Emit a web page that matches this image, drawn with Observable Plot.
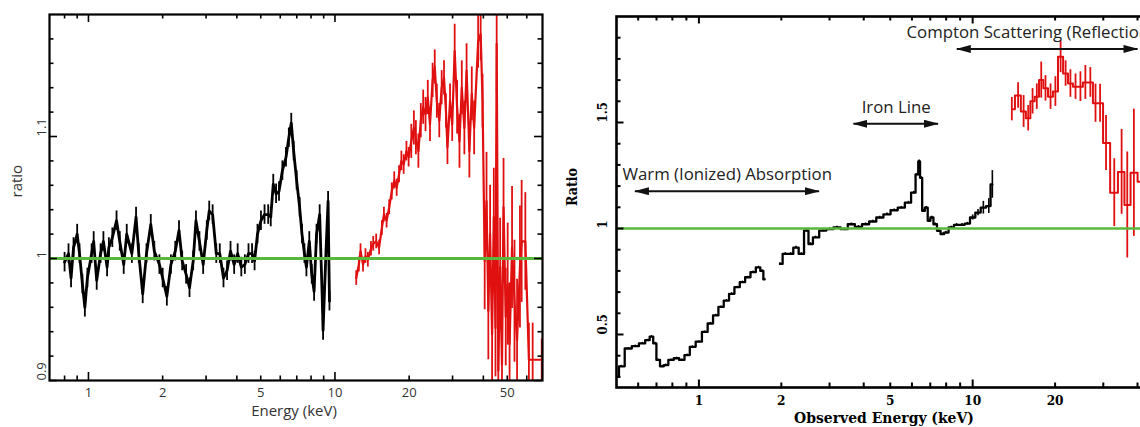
<!DOCTYPE html>
<html>
<head>
<meta charset="utf-8">
<script src="https://cdn.jsdelivr.net/npm/d3@7"></script>
<script src="https://cdn.jsdelivr.net/npm/@observablehq/plot@0.6"></script>
<style>
  html, body { margin: 0; padding: 0; background: #fff; overflow: hidden; }
  #wrap { position: relative; width: 1140px; height: 427px; overflow: hidden; background: #fff; }
  #left { position: absolute; left: 0; top: 0; width: 560px; height: 427px; }
  #right { position: absolute; left: 560px; top: 0; width: 640px; height: 427px; }
  #wrap svg { overflow: visible; display: block; max-width: none !important; }
</style>
</head>
<body>
<div id="wrap"><div id="left"></div><div id="right"></div></div>
<script>
// ================= LEFT PANEL DATA =================
const leftBlackEnergy = [0.80,0.83,0.85,0.87,0.90,0.92,0.945,0.967,0.99,1.03,1.05,1.08,1.12,1.15,1.19,1.21,1.25,1.30,1.34,1.39,1.43,1.50,1.56,1.60,1.66,1.72,1.79,1.85,1.94,2.0,2.08,2.16,2.25,2.33,2.40,2.49,2.57,2.66,2.73,2.82,2.92,3.02,3.09,3.19,3.30,3.41,3.53,3.65,3.77,3.90,4.03,4.17,4.31,4.46,4.61,4.72,4.85,5.01,5.18,5.36,5.49,5.62,5.77,5.93,6.12,6.33,6.50,6.65,6.80,6.99,7.19,7.35,7.52,7.66,7.87,8.05,8.23,8.42,8.67,8.87,8.95,9.19,9.38,9.5];
const leftBlackRatio = [0.997,1.004,0.984,1.009,1.02,1.004,0.979,0.96,0.984,1.004,1.014,0.982,1.004,1.014,0.993,1.009,1.017,1.031,1.014,0.995,1.02,1.004,1.034,1.004,0.971,1.004,1.028,1.006,0.995,0.984,0.969,0.995,1.006,1.023,0.998,0.987,0.976,0.998,1.031,1.014,0.995,1.023,1.039,1.036,1.004,1.004,0.984,0.99,1.006,0.995,1.004,0.993,0.995,1.004,1.004,0.998,1.02,1.031,1.036,1.036,1.034,1.061,1.053,1.055,1.072,1.083,1.099,1.111,1.088,1.064,1.042,1.02,1.004,0.993,1.014,0.987,0.973,1.02,1.036,0.971,0.941,1.004,1.047,0.965];
const leftBlackErr = 0.008;

const leftRedEnergy = [12.2,12.5,12.7,13.0,13.3,13.6,14.0,14.3,14.7,15.1,15.5,15.8,16.2,16.6,17.0,17.4,17.8,18.2,18.6,19.0,19.5,19.9,20.4,20.9,21.3,21.8,22.3,22.8,23.3,23.8,24.3,24.9,25.4,25.9,26.5,27.1,27.7,28.2,28.6,29.3,29.9,30.6,31.3,32.0,32.7,33.5,34.2,35.1,35.9,36.7,38.1,39.0,39.7,40.5,41.2,41.9,42.6,43.4,44.1,44.8,45.3,46.0,46.8,47.6,48.3,49.3,50.2,51.1,52.3,53.5,54.8,56.3,57.2,59.2,61.2,63.4,69.0];
const leftRedRatio = [0.984,0.995,1.006,0.995,1.002,0.999,1.008,1.012,1.014,1.009,1.025,1.036,1.031,1.042,1.055,1.064,1.058,1.069,1.08,1.077,1.088,1.083,1.096,1.107,1.099,1.088,1.113,1.124,1.118,1.132,1.11,1.146,1.157,1.129,1.113,1.14,1.148,1.121,1.091,1.129,1.11,1.17,1.124,1.096,1.14,1.107,1.154,1.088,1.135,1.107,1.178,1.184,1.129,0.998,1.047,0.957,1.02,0.938,1.034,0.943,1.176,0.908,0.993,0.913,1.042,0.952,0.979,0.93,1.009,0.965,0.933,0.993,1.014,1.014,0.917,0.917,0.917];
const leftRedErr = [0.006,0.006,0.006,0.006,0.006,0.006,0.006,0.006,0.006,0.006,0.006,0.006,0.006,0.006,0.007,0.007,0.007,0.007,0.008,0.008,0.008,0.008,
  0.014,0.014,0.014,0.014,0.014,0.014,0.014,0.014,0.014,0.014,0.014,0.014,0.014,0.014,0.014,0.014,0.014,0.014,0.014,
  0.022,0.022,0.022,0.022,0.022,0.022,0.022,0.022,0.022,0.022,0.022,0.022,
  0.04,0.04,0.04,0.04,0.04,0.04,0.04,0.04,0.04,0.04,0.04,0.04,0.04,
  0.05,0.05,0.05,0.05,0.05,0.05,
  0.05,0.04,0.03,0.03,0.017];

const leftXTicksMajor = [1, 10];
const leftXTicksMinor = [0.8, 0.9, 2, 3, 4, 5, 6, 7, 8, 9, 20, 30, 40, 50, 60];
const leftXLabels = [1, 2, 5, 10, 20, 50];
const leftYTicksMajor = [0.9, 1.0, 1.1];
const leftYTicksMinor = [0.92, 0.94, 0.96, 0.98, 1.02, 1.04, 1.06, 1.08, 1.12, 1.14, 1.16, 1.18];
const leftYLabels = [0.9, 1, 1.1];

// ================= RIGHT PANEL DATA =================
const rightBlackEnergyA = [0.501,0.520,0.552,0.586,0.622,0.651,0.671,0.691,0.708,0.734,0.756,0.791,0.828,0.866,0.906,0.947,1.0,1.052,1.101,1.152,1.205,1.26,1.318,1.379,1.442,1.509,1.578,1.651,1.701,1.738];
const rightBlackRatioA = [0.30,0.35,0.434,0.445,0.458,0.473,0.49,0.458,0.38,0.35,0.356,0.38,0.388,0.38,0.403,0.442,0.466,0.512,0.552,0.59,0.63,0.66,0.692,0.723,0.747,0.77,0.794,0.817,0.80,0.76];
const rightBlackErrA = 0.005;
const rightBlackEnergyB = [1.977,2.068,2.163,2.262,2.367,2.476,2.551,2.669,2.834,3.009,3.195,3.394,3.604,3.826,4.063,4.314,4.581,4.864,5.166,5.486,5.824,6.093,6.28,6.375,6.471,6.608,6.769,6.934,7.081,7.297,7.519,7.749,7.985,8.353,8.737,9.139,9.559,10.0,10.46,10.94,11.45,11.8];
const rightBlackRatioB = [0.833,0.88,0.88,0.91,0.88,0.99,0.927,0.958,0.99,0.997,1.005,0.997,1.02,1.008,1.02,1.033,1.052,1.067,1.086,1.098,1.122,1.169,1.255,1.317,1.239,1.083,1.098,1.036,1.052,1.02,0.989,0.973,0.981,1.005,1.017,1.017,1.023,1.052,1.075,1.098,1.106,1.208];
const rightBlackErrB = [0.006,0.006,0.006,0.006,0.006,0.006,0.006,0.006,0.006,0.006,0.006,0.006,0.006,0.006,0.006,0.006,0.006,0.006,0.006,0.006,0.006,0.006,0.006,0.006,0.006,0.006,0.006,0.006,0.006,0.006,0.006,0.006,0.006,0.006,0.006,0.006,0.006,0.012,0.015,0.03,0.035,0.065];

const rightRedEnergy = [13.9,14.65,15.35,15.95,16.55,17.15,17.8,18.45,19.25,20.05,20.95,21.85,22.75,23.75,24.75,25.8,26.9,28.1,29.2,30.7,32.9,35.0,36.7,38.8,41.3];
const rightRedRatio = [1.563,1.627,1.552,1.52,1.60,1.622,1.70,1.661,1.622,1.646,1.81,1.731,1.684,1.669,1.669,1.689,1.689,1.591,1.591,1.403,1.169,1.267,1.111,1.263,1.22];
const rightRedErr = [0.055,0.06,0.075,0.06,0.06,0.06,0.085,0.06,0.06,0.07,0.075,0.06,0.065,0.06,0.07,0.08,0.07,0.09,0.09,0.13,0.16,0.2,0.25,0.3,0.35];

const rightXTicksMajor = [1, 10];
const rightXTicksMinor = [0.6, 0.7, 0.8, 0.9, 2, 3, 4, 5, 6, 7, 8, 9, 20, 30, 40];
const rightXLabels = [1, 2, 5, 10, 20];
const rightYTicksMajor = [0.5, 1, 1.5];
const rightYTicksMinor = [0.3, 0.4, 0.6, 0.7, 0.8, 0.9, 1.1, 1.2, 1.3, 1.4, 1.6, 1.7, 1.8, 1.9];
const rightYLabels = [0.5, 1, 1.5];

// annotations (right panel)
const noteText = ["Warm (Ionized) Absorption", "Iron Line", "Compton Scattering (Reflection)"];
const noteEnergy = [0.526, 3.93, 5.73];
const noteRatio = [1.255, 1.572, 1.923];
const arrowFrom = [0.584, 3.67, 8.75];
const arrowTo = [2.745, 7.47, 40];
const arrowRatio = [1.176, 1.494, 1.847];

// ================= HELPERS =================
const GREEN = "#58b83b";
const RED = "#e01010";

function frameTicks(xMaj, xMin, yMaj, yMin, fw, fh, majLen, minLen, sw) {
  const st = {stroke: "#000", strokeWidth: sw};
  return [
    Plot.tickX(xMaj, {x: d => d, insetTop: fh - majLen, ...st}),
    Plot.tickX(xMaj, {x: d => d, insetBottom: fh - majLen, ...st}),
    Plot.tickX(xMin, {x: d => d, insetTop: fh - minLen, ...st}),
    Plot.tickX(xMin, {x: d => d, insetBottom: fh - minLen, ...st}),
    Plot.tickY(yMaj, {y: d => d, insetRight: fw - majLen, ...st}),
    Plot.tickY(yMaj, {y: d => d, insetLeft: fw - majLen, ...st}),
    Plot.tickY(yMin, {y: d => d, insetRight: fw - minLen, ...st}),
    Plot.tickY(yMin, {y: d => d, insetLeft: fw - minLen, ...st})
  ];
}

// ================= LEFT PLOT =================
const LW = 560, LH = 427, LML = 49, LMR = 18, LMT = 14, LMB = 47;
const leftBlack = leftBlackEnergy.map((e, i) => ({e, r: leftBlackRatio[i], err: leftBlackErr}));
const leftRed = leftRedEnergy.map((e, i) => ({e, r: leftRedRatio[i], err: leftRedErr[i]}));
const sansL = "'Open Sans', 'Noto Sans', sans-serif";

const leftPlot = Plot.plot({
  width: LW, height: LH,
  marginLeft: LML, marginRight: LMR, marginTop: LMT, marginBottom: LMB,
  x: {type: "log", domain: [0.695, 69.5], axis: null},
  y: {domain: [0.9, 1.2], axis: null},
  style: {background: "transparent", overflow: "visible", maxWidth: "none"},
  marks: [
    Plot.ruleX(leftBlack, {x: "e", y1: d => d.r - d.err, y2: d => d.r + d.err, stroke: "#000", strokeWidth: 1.8, clip: true}),
    Plot.line(leftBlack, {x: "e", y: "r", stroke: "#000", strokeWidth: 2.8, clip: true}),
    Plot.ruleX(leftRed, {x: "e", y1: d => d.r - d.err, y2: d => d.r + d.err, stroke: RED, strokeWidth: 1.8, clip: true}),
    Plot.line(leftRed, {x: "e", y: "r", stroke: RED, strokeWidth: 2.2, clip: true}),
    Plot.ruleY([1], {stroke: GREEN, strokeWidth: 3}),
    ...frameTicks(leftXTicksMajor, leftXTicksMinor, leftYTicksMajor, leftYTicksMinor, LW - LML - LMR, LH - LMT - LMB, 8, 4.5, 1.6),
    Plot.frame({stroke: "#000", strokeWidth: 2.2}),
    Plot.text(leftXLabels, {x: d => d, text: d => String(d), frameAnchor: "bottom", dy: 12, lineAnchor: "middle", fontFamily: sansL, fontSize: 13, fill: "#333"}),
    Plot.text(leftYLabels, {y: d => d, text: d => String(d), frameAnchor: "left", dx: -8, rotate: -90, lineAnchor: "middle", fontFamily: sansL, fontSize: 13, fill: "#333"}),
    Plot.text(["Energy (keV)"], {text: d => d, frameAnchor: "bottom", dx: -2, dy: 31, lineAnchor: "middle", fontFamily: sansL, fontSize: 15, fill: "#333"}),
    Plot.text(["ratio"], {text: d => d, frameAnchor: "left", dx: -32, rotate: -90, lineAnchor: "middle", fontFamily: sansL, fontSize: 15, fill: "#333"})
  ]
});
document.getElementById("left").appendChild(leftPlot);

// ================= RIGHT PLOT =================
const RW = 640, RH = 427, RML = 56, RMR = 49, RMT = 16, RMB = 40;
const rightA = rightBlackEnergyA.map((e, i) => ({e, r: rightBlackRatioA[i], err: rightBlackErrA}));
const rightB = rightBlackEnergyB.map((e, i) => ({e, r: rightBlackRatioB[i], err: rightBlackErrB[i]}));
const rightRed = rightRedEnergy.map((e, i) => ({e, r: rightRedRatio[i], err: rightRedErr[i]}));
const notes = noteText.map((t, i) => ({t, e: noteEnergy[i], r: noteRatio[i]}));
const arrows = arrowFrom.map((a, i) => ({a, b: arrowTo[i], r: arrowRatio[i]}));
const serifB = "'DejaVu Serif Condensed', 'DejaVu Serif', serif";

const rightPlot = Plot.plot({
  width: RW, height: RH,
  marginLeft: RML, marginRight: RMR, marginTop: RMT, marginBottom: RMB,
  x: {type: "log", domain: [0.5, 45], axis: null},
  y: {domain: [0.25, 2.0], axis: null},
  style: {background: "transparent", overflow: "visible", maxWidth: "none"},
  marks: [
    Plot.ruleX(rightA, {x: "e", y1: d => d.r - d.err, y2: d => d.r + d.err, stroke: "#000", strokeWidth: 1.3, clip: true}),
    Plot.line(rightA, {x: "e", y: "r", curve: "step", stroke: "#000", strokeWidth: 2.3, clip: true}),
    Plot.ruleX(rightB, {x: "e", y1: d => d.r - d.err, y2: d => d.r + d.err, stroke: "#000", strokeWidth: 1.6, clip: true}),
    Plot.line(rightB, {x: "e", y: "r", curve: "step", stroke: "#000", strokeWidth: 2.3, clip: true}),
    Plot.ruleX(rightRed, {x: "e", y1: d => d.r - d.err, y2: d => d.r + d.err, stroke: RED, strokeWidth: 1.8, clip: true}),
    Plot.line(rightRed, {x: "e", y: "r", curve: "step", stroke: RED, strokeWidth: 2, clip: true}),
    Plot.ruleY([1], {stroke: GREEN, strokeWidth: 2.5}),
    ...frameTicks(rightXTicksMajor, rightXTicksMinor, rightYTicksMajor, rightYTicksMinor, RW - RML - RMR, RH - RMT - RMB, 7.5, 4.5, 2),
    Plot.frame({stroke: "#000", strokeWidth: 2.6}),
    Plot.link(arrows, {x1: "a", x2: "b", y1: "r", y2: "r", stroke: "#111", strokeWidth: 2}),
    Plot.text(notes, {x: "e", y: "r", text: "t", textAnchor: "start", lineAnchor: "middle", fontFamily: sansL, fontSize: 16.8, fill: "#222"}),
    Plot.text(rightXLabels, {x: d => d, text: d => String(d), frameAnchor: "bottom", dy: 13.5, lineAnchor: "middle", fontFamily: serifB, fontWeight: "bold", fontSize: 13.5, fill: "#000"}),
    Plot.text(rightYLabels, {y: d => d, text: d => String(d), frameAnchor: "left", dx: -14, rotate: -90, lineAnchor: "middle", fontFamily: serifB, fontWeight: "bold", fontSize: 13, fill: "#000"}),
    Plot.text(["Observed Energy (keV)"], {text: d => d, frameAnchor: "bottom", dy: 31, lineAnchor: "middle", fontFamily: serifB, fontWeight: "bold", fontSize: 15.5, fill: "#000"}),
    Plot.text(["Ratio"], {text: d => d, frameAnchor: "left", dx: -44, dy: 4, rotate: -90, lineAnchor: "middle", fontFamily: serifB, fontWeight: "bold", fontSize: 14, fill: "#000"})
  ]
});
document.getElementById("right").appendChild(rightPlot);

// filled double arrow heads on the annotation links
(function () {
  const svg = d3.select(rightPlot);
  const defs = svg.insert("defs", ":first-child");
  defs.append("marker")
    .attr("id", "dblhead").attr("viewBox", "0 0 15 8")
    .attr("refX", 14).attr("refY", 4)
    .attr("markerWidth", 15).attr("markerHeight", 8)
    .attr("markerUnits", "userSpaceOnUse")
    .attr("orient", "auto-start-reverse")
    .append("path").attr("d", "M0,0L15,4L0,8Z").attr("fill", "#111");
  svg.selectAll('g[aria-label="link"] path')
    .attr("marker-start", "url(#dblhead)")
    .attr("marker-end", "url(#dblhead)");
})();
</script>
</body>
</html>
